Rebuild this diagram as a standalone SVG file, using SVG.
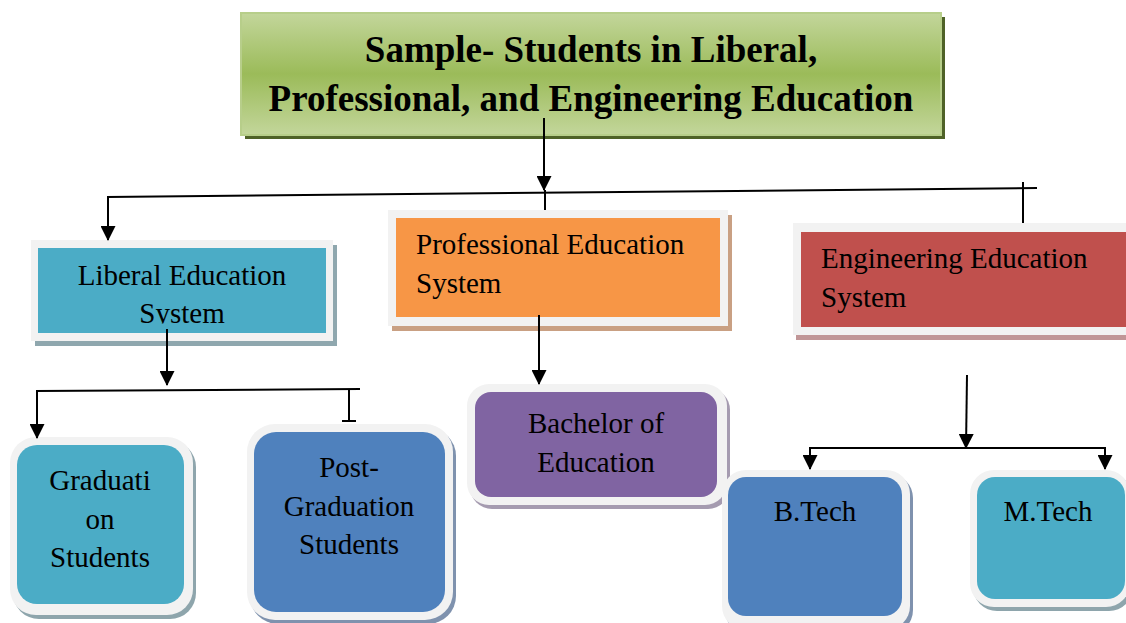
<svg xmlns="http://www.w3.org/2000/svg" width="1126" height="623" viewBox="0 0 1126 623">
  <style>
    .t { font-family: "Liberation Serif", "Times New Roman", serif; font-size: 29px; fill: #000; }
    .c { text-anchor: middle; }
    .title { font-family: "Liberation Serif", "Times New Roman", serif; font-size: 37px; font-weight: bold; fill: #000; text-anchor: middle; }
    .frame { fill: #F2F2F2; }
    .ln { stroke: #000; stroke-width: 2; fill: none; }
  </style>
  <defs>
    <linearGradient id="gr" x1="0" y1="0" x2="0" y2="1">
      <stop offset="0" stop-color="#C3D69B"/>
      <stop offset="0.5" stop-color="#9BBB59"/>
      <stop offset="1" stop-color="#C3D69B"/>
    </linearGradient>
    <marker id="ah" markerWidth="15" markerHeight="15" refX="14" refY="7.5" orient="auto" markerUnits="userSpaceOnUse">
      <path d="M0,0 L15,7.5 L0,15 z" fill="#000"/>
    </marker>
    <clipPath id="libclip"><rect x="38" y="248" width="288" height="75.5"/></clipPath>
  </defs>

  <g id="title">
    <rect x="245" y="17" width="700" height="122" fill="#4F6228"/>
    <rect x="241" y="13" width="700" height="122" fill="url(#gr)" stroke="#B7CE8A" stroke-width="2"/>
    <text class="title" x="591" y="62">Sample- Students in Liberal,</text>
    <text class="title" x="591" y="111">Professional, and Engineering Education</text>
  </g>

  <g id="liberal">
    <rect x="35" y="245" width="302" height="101" fill="#8FA7AE"/>
    <rect class="frame" x="31" y="240" width="302" height="101"/>
    <rect x="38" y="248" width="288" height="85" fill="#4BACC6"/>
    <text class="t c" x="182" y="285">Liberal Education</text>
    <text class="t c" x="182" y="323" clip-path="url(#libclip)">System</text>
  </g>

  <g id="professional">
    <rect x="392" y="215" width="340" height="116" fill="#C9A083"/>
    <rect class="frame" x="388" y="210" width="340" height="116"/>
    <rect x="396" y="218" width="324" height="99" fill="#F79646"/>
    <text class="t" x="416" y="254">Professional Education</text>
    <text class="t" x="416" y="293">System</text>
  </g>

  <g id="engineering">
    <rect x="796" y="228" width="340" height="112" fill="#C09697"/>
    <rect class="frame" x="793" y="223" width="340" height="112"/>
    <rect x="801" y="232" width="330" height="95" fill="#C0504D"/>
    <text class="t" x="821" y="268">Engineering Education</text>
    <text class="t" x="821" y="307">System</text>
  </g>

  <g id="graduation">
    <rect x="13" y="441" width="183" height="178" rx="26" fill="#8EA5AC"/>
    <rect class="frame" x="10" y="437" width="183" height="178" rx="26"/>
    <rect x="17" y="445" width="167" height="159" rx="20" fill="#4BACC6"/>
    <text class="t c" x="100" y="490">Graduati</text>
    <text class="t c" x="100" y="529">on</text>
    <text class="t c" x="100" y="567">Students</text>
  </g>

  <g id="postgraduation">
    <rect x="250" y="428" width="206" height="196" rx="28" fill="#7F92AE"/>
    <rect class="frame" x="247" y="424" width="206" height="196" rx="28"/>
    <rect x="254" y="432" width="191" height="180" rx="22" fill="#4F81BD"/>
    <text class="t c" x="349" y="477">Post-</text>
    <text class="t c" x="349" y="516">Graduation</text>
    <text class="t c" x="349" y="554">Students</text>
  </g>

  <g id="bachelor">
    <rect x="470" y="388" width="260" height="121" rx="22" fill="#A59BB0"/>
    <rect class="frame" x="467" y="384" width="260" height="121" rx="22"/>
    <rect x="475" y="392" width="242" height="105" rx="16" fill="#8064A2"/>
    <text class="t c" x="596" y="433">Bachelor of</text>
    <text class="t c" x="596" y="472">Education</text>
  </g>

  <g id="btech">
    <rect x="725" y="474" width="188" height="160" rx="24" fill="#7F92AE"/>
    <rect class="frame" x="722" y="470" width="188" height="160" rx="24"/>
    <rect x="728" y="477" width="174" height="139" rx="18" fill="#4F81BD"/>
    <text class="t c" x="815" y="521">B.Tech</text>
  </g>

  <g id="mtech">
    <rect x="973" y="474" width="160" height="137" rx="24" fill="#8EA5AC"/>
    <rect class="frame" x="970" y="470" width="160" height="137" rx="24"/>
    <rect x="977" y="477" width="148" height="122" rx="18" fill="#4BACC6"/>
    <text class="t c" x="1048" y="521">M.Tech</text>
  </g>

  <g id="connectors">
    <line class="ln" x1="544" y1="118" x2="544" y2="190" marker-end="url(#ah)"/>
    <line class="ln" x1="107" y1="197" x2="1037" y2="188"/>
    <line class="ln" x1="545" y1="190" x2="545" y2="210"/>
    <line class="ln" x1="1023" y1="182" x2="1023" y2="223"/>
    <line class="ln" x1="108" y1="196" x2="108" y2="240" marker-end="url(#ah)"/>

    <line class="ln" x1="167" y1="329" x2="167" y2="385" marker-end="url(#ah)"/>
    <line class="ln" x1="36" y1="391" x2="360" y2="389"/>
    <line class="ln" x1="37" y1="391" x2="37" y2="438" marker-end="url(#ah)"/>
    <line class="ln" x1="349" y1="389" x2="349" y2="421"/>
    <line class="ln" x1="342" y1="421" x2="356" y2="421"/>

    <line class="ln" x1="539" y1="315" x2="539" y2="384" marker-end="url(#ah)"/>

    <line class="ln" x1="967" y1="375" x2="966" y2="448" marker-end="url(#ah)"/>
    <line class="ln" x1="810" y1="448" x2="1105" y2="448"/>
    <line class="ln" x1="810" y1="447" x2="810" y2="469" marker-end="url(#ah)"/>
    <line class="ln" x1="1105" y1="447" x2="1105" y2="469" marker-end="url(#ah)"/>
  </g>
</svg>
